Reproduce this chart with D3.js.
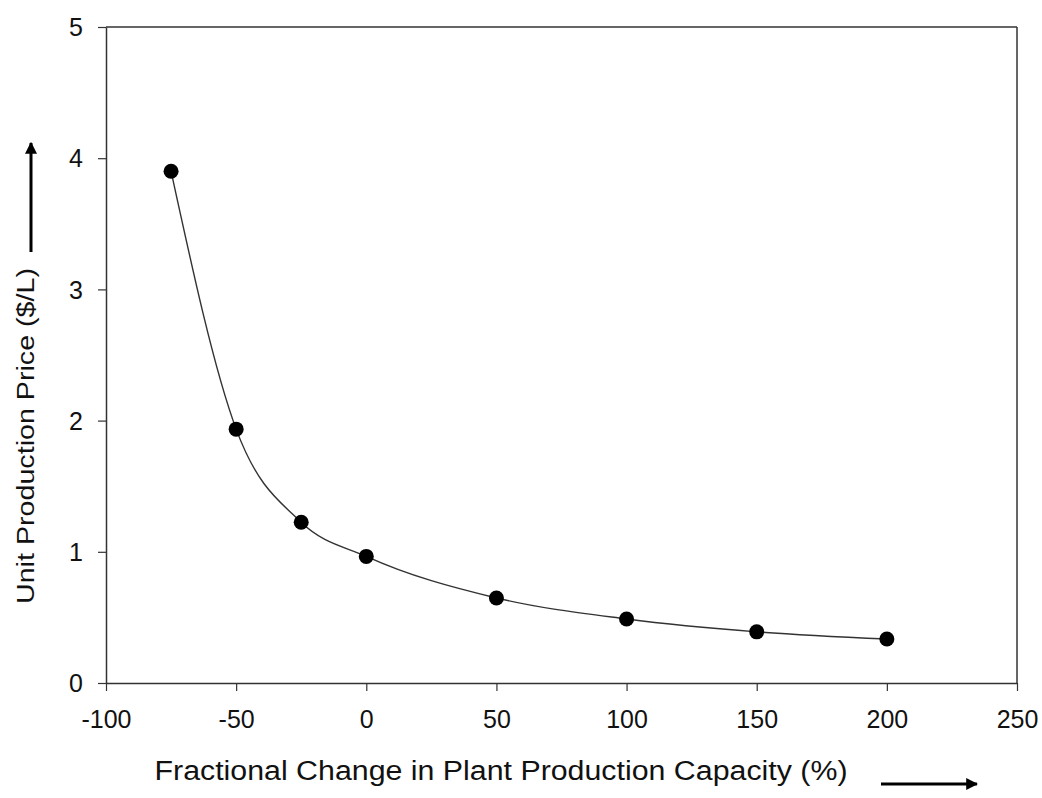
<!DOCTYPE html>
<html><head><meta charset="utf-8">
<script src="https://cdn.jsdelivr.net/npm/d3@7"></script>
<style>body{margin:0;background:#fff}svg{display:block}</style>
</head><body>
<svg id="c" width="1042" height="798"></svg>
<script>
const capacityChange = [-75, -50, -25, 0, 50, 100, 150, 200];
const unitPrice = [3.90, 1.935, 1.225, 0.965, 0.648, 0.488, 0.39, 0.335];
const xTicks = [-100, -50, 0, 50, 100, 150, 200, 250];
const yTicks = [0, 1, 2, 3, 4, 5];

const svg = d3.select("#c");
const L = 106, R = 1017, T = 27, B = 683;
const x = d3.scaleLinear().domain([-100, 250]).range([L, R]);
const y = d3.scaleLinear().domain([0, 5]).range([B, T]);
const font = "Liberation Sans, Arial, sans-serif";
const col = "#333";

// frame top/right
svg.append("line").attr("x1", L).attr("x2", R).attr("y1", T).attr("y2", T).attr("stroke", col).attr("stroke-width", 1.5);
svg.append("line").attr("x1", R).attr("x2", R).attr("y1", T).attr("y2", B).attr("stroke", col).attr("stroke-width", 1.5);

const xAxis = svg.append("g").attr("transform", `translate(0,${B})`)
  .call(d3.axisBottom(x).tickValues(xTicks).tickFormat(d => String(d)).tickSize(8).tickSizeOuter(0));
xAxis.selectAll(".tick text").attr("y", 45).attr("dy", 0);
const yAxis = svg.append("g").attr("transform", `translate(${L},0)`)
  .call(d3.axisLeft(y).tickValues(yTicks).tickFormat(d => String(d)).tickSize(8).tickSizeOuter(0));
yAxis.selectAll(".tick text").attr("x", -23).attr("dy", "0.35em");
[xAxis, yAxis].forEach(g => {
  g.select(".domain").attr("stroke", col).attr("stroke-width", 1.5);
  g.selectAll(".tick line").attr("stroke", col).attr("stroke-width", 1.2);
  g.selectAll(".tick text").attr("font-family", font).attr("font-size", 25).attr("fill", "#111");
});

const pts = capacityChange.map((c, i) => [c, unitPrice[i]]);
svg.append("path").datum(pts)
  .attr("d", d3.line().x(d => x(d[0])).y(d => y(d[1])).curve(d3.curveMonotoneX))
  .attr("fill", "none").attr("stroke", "#333").attr("stroke-width", 1.4);
svg.selectAll("circle.pt").data(pts).join("circle").attr("class", "pt")
  .attr("cx", d => x(d[0])).attr("cy", d => y(d[1])).attr("r", 7.5).attr("fill", "#000");

// titles
svg.append("text").attr("x", 501).attr("y", 780).attr("text-anchor", "middle")
  .attr("font-family", font).attr("font-size", 27).attr("fill", "#111")
  .attr("textLength", 693).attr("lengthAdjust", "spacingAndGlyphs")
  .text("Fractional Change in Plant Production Capacity (%)");
svg.append("text").attr("transform", "translate(34,436) rotate(-90)").attr("text-anchor", "middle")
  .attr("font-family", font).attr("font-size", 23).attr("fill", "#111")
  .attr("textLength", 336).attr("lengthAdjust", "spacingAndGlyphs")
  .text("Unit Production Price ($/L)");

const defs = svg.append("defs");
defs.append("marker").attr("id", "ah").attr("viewBox", "0 0 10 10").attr("refX", 9).attr("refY", 5)
  .attr("markerWidth", 4).attr("markerHeight", 4).attr("orient", "auto")
  .append("path").attr("d", "M0,0 L10,5 L0,10 z").attr("fill", "#000");
svg.append("line").attr("x1", 881).attr("x2", 977).attr("y1", 784).attr("y2", 784)
  .attr("stroke", "#000").attr("stroke-width", 3).attr("marker-end", "url(#ah)");
svg.append("line").attr("x1", 31).attr("x2", 31).attr("y1", 252).attr("y2", 143)
  .attr("stroke", "#000").attr("stroke-width", 3).attr("marker-end", "url(#ah)");
</script>
</body></html>
